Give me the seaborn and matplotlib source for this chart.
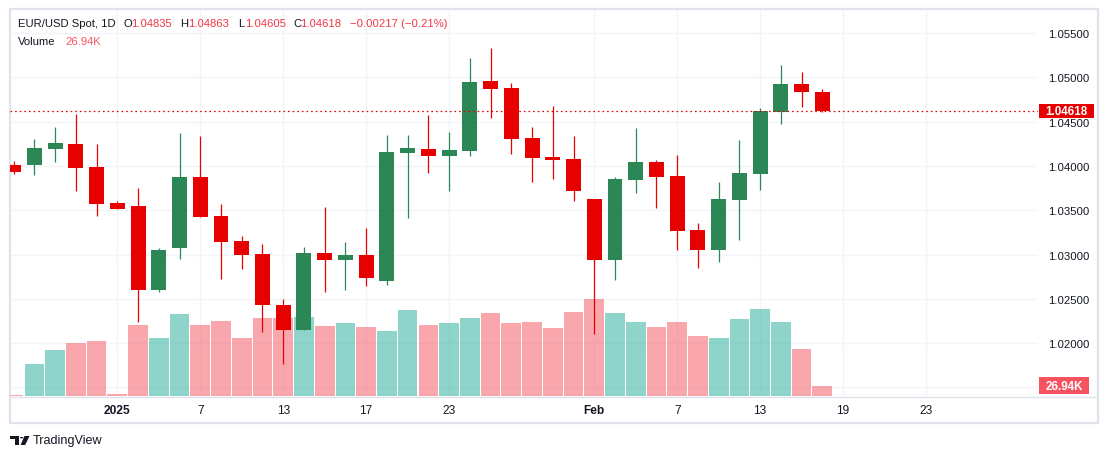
import numpy as np
import pandas as pd
import matplotlib
matplotlib.use("Agg")
import matplotlib.pyplot as plt
import seaborn as sns
from matplotlib.patches import Rectangle, Polygon, Circle
from matplotlib.lines import Line2D

# ---------------- data ----------------
dates = ["2024-12-25", "2024-12-26", "2024-12-27", "2024-12-30", "2024-12-31",
         "2025-01-01", "2025-01-02", "2025-01-03", "2025-01-06", "2025-01-07",
         "2025-01-08", "2025-01-09", "2025-01-10", "2025-01-13", "2025-01-14",
         "2025-01-15", "2025-01-16", "2025-01-17", "2025-01-20", "2025-01-21",
         "2025-01-22", "2025-01-23", "2025-01-24", "2025-01-27", "2025-01-28",
         "2025-01-29", "2025-01-30", "2025-01-31", "2025-02-03", "2025-02-04",
         "2025-02-05", "2025-02-06", "2025-02-07", "2025-02-10", "2025-02-11",
         "2025-02-12", "2025-02-13", "2025-02-14", "2025-02-17", "2025-02-18"]

open_ = [1.04010, 1.04013, 1.04190, 1.04247, 1.03987, 1.03581, 1.03547, 1.02598, 1.03073, 1.03874,
         1.03434, 1.03152, 1.03005, 1.02429, 1.02150, 1.03016, 1.02940, 1.02994, 1.02703, 1.04149,
         1.04190, 1.04115, 1.04168, 1.04958, 1.04879, 1.04315, 1.04100, 1.04077, 1.03626, 1.02937,
         1.03840, 1.04044, 1.03886, 1.03276, 1.03050, 1.03615, 1.03908, 1.04611, 1.04924, 1.04835]
high = [1.04055, 1.04303, 1.04439, 1.04586, 1.04247, 1.03603, 1.03750, 1.03073, 1.04371, 1.04337,
        1.03569, 1.03208, 1.03118, 1.02497, 1.03084, 1.03536, 1.03140, 1.03298, 1.04348, 1.04348,
        1.04574, 1.04382, 1.05218, 1.05331, 1.04936, 1.04439, 1.04676, 1.04337, 1.03626, 1.03874,
        1.04427, 1.04066, 1.04123, 1.03355, 1.03818, 1.04292, 1.04653, 1.05139, 1.05060, 1.04863]
low = [1.03909, 1.03897, 1.04047, 1.03720, 1.03437, 1.03513, 1.02237, 1.02576, 1.02948, 1.03420,
       1.02723, 1.02836, 1.02124, 1.01763, 1.02150, 1.02579, 1.02602, 1.02647, 1.02658, 1.03415,
       1.03923, 1.03720, 1.04111, 1.04540, 1.04134, 1.03818, 1.03852, 1.03603, 1.02105, 1.02715,
       1.03694, 1.03524, 1.03050, 1.02847, 1.02915, 1.03163, 1.03728, 1.04473, 1.04665, 1.04605]
close = [1.03935, 1.04202, 1.04258, 1.03976, 1.03569, 1.03513, 1.02598, 1.03050, 1.03874, 1.03423,
         1.03140, 1.02994, 1.02429, 1.02150, 1.03016, 1.02940, 1.02994, 1.02737, 1.04157, 1.04202,
         1.04115, 1.04179, 1.04947, 1.04868, 1.04303, 1.04089, 1.04066, 1.03716, 1.02937, 1.03852,
         1.04044, 1.03874, 1.03265, 1.03050, 1.03626, 1.03919, 1.04616, 1.04924, 1.04835, 1.04618]
volume_k = [3.5, 86, 124, 143, 148, 5, 191, 156, 221, 191,
            202, 156, 210, 210, 213, 189, 197, 186, 175, 232,
            191, 197, 210, 224, 197, 199, 183, 226, 261, 224,
            199, 186, 199, 162, 156, 207, 234, 199, 127, 26.94]

price_ticks = [1.015, 1.020, 1.025, 1.030, 1.035, 1.040, 1.045, 1.050, 1.055]
price_tick_labels = ["", "1.02000", "1.02500", "1.03000", "1.03500", "1.04000", "1.04500", "1.05000", "1.05500"]
time_tick_bars = [5, 9, 13, 17, 21, 28, 32, 36, 40, 44]
time_tick_labels = ["2025", "7", "13", "17", "23", "Feb", "7", "13", "19", "23"]

title_text = "EUR/USD Spot, 1D"
ohlc_legend = [("O", "1.04835"), ("H", "1.04863"), ("L", "1.04605"), ("C", "1.04618")]
change_text = "\u22120.00217 (\u22120.21%)"
volume_label = "26.94K"

# ---------------- style ----------------
sns.set_theme(style="white")
plt.rcParams["font.family"] = ["Liberation Sans", "DejaVu Sans"]

TXT = "#131722"
GREEN = "#2b8856"
RED = "#e60000"
LEG_RED = "#f23645"
VOL_RED = "#f7525f"
VOL_UP = "#1fab97"
VOL_DN = "#f5515d"
GRID = "#f2f4f9"
BORDER = "#e0e3eb"

W, H = 1109, 460
fig = plt.figure(figsize=(W / 100, H / 100), dpi=100)
fig.patch.set_facecolor("white")


def fx(x):
    return x / W


def fy(y):
    return 1 - y / H


L, R, T, B = 10, 1038, 10, 397
ax = fig.add_axes([fx(L), fy(B), (R - L) / W, (B - T) / H])
axv = ax.twinx()
axc = ax.twinx()
ax.set_zorder(0)
axv.set_zorder(1)
axc.set_zorder(2)
axv.patch.set_visible(False)
axc.patch.set_visible(False)

o = np.array(open_)
c = np.array(close)
hi = np.array(high)
lo = np.array(low)
n = len(o)
xb = np.arange(n)
up = c >= o
direction = np.where(up, "up", "down")

# volume (seaborn)
df = pd.DataFrame({"bar": xb, "volume": volume_k, "dir": direction})
sns.barplot(data=df, x="bar", y="volume", hue="dir", hue_order=["up", "down"],
            palette={"up": VOL_UP, "down": VOL_DN}, native_scale=True, dodge=False,
            width=0.95, saturation=1, errorbar=None, legend=False, alpha=0.5,
            linewidth=0, ax=axv)
axv.set_ylim(0, 1040)

# candles
cols = np.where(up, GREEN, RED)
axc.vlines(xb, lo, hi, colors=cols, linewidth=0.9)
body_lo = np.minimum(o, c)
body_h = np.maximum(np.abs(c - o), 0.00012)
axc.bar(xb, body_h, bottom=body_lo, width=0.72, color=cols, linewidth=0)
axc.axhline(c[-1], color=RED, lw=0.9, ls=(0, (1.3, 2.4)))

ylo, yhi = 1.01403, 1.05771
for a in (ax, axc):
    a.set_ylim(ylo, yhi)
ax.set_xlim(-0.176, 49.4)
axv.axis("off")
axc.axis("off")

# price axis / grid
for s in ax.spines.values():
    s.set_visible(False)
ax.set_yticks(price_ticks)
ax.set_yticklabels(price_tick_labels)
ax.yaxis.tick_right()
ax.tick_params(axis="y", length=0, pad=36.7, labelsize=8.2, labelcolor=TXT)
for lab in ax.get_yticklabels():
    lab.set_horizontalalignment("right")
ax.set_xticks(time_tick_bars)
ax.set_xticklabels(time_tick_labels)
ax.tick_params(axis="x", length=0, pad=6, labelsize=8.6, labelcolor=TXT)
for lab in ax.get_xticklabels():
    if lab.get_text() in ("2025", "Feb"):
        lab.set_fontweight("bold")
ax.grid(True, color=GRID, lw=1)
ax.set_xlabel("")
ax.set_ylabel("")

# frame
fig.add_artist(Rectangle((fx(10), fy(424)), (1098 - 10) / W, (424 - 10) / H,
                         transform=fig.transFigure, fill=False, ec=BORDER, lw=1.6))
fig.add_artist(Line2D([fx(10), fx(1098)], [fy(397.5), fy(397.5)],
                      transform=fig.transFigure, color=BORDER, lw=1))

# legend text
LFS = 8.1
fig.text(fx(18), fy(24), title_text, fontsize=LFS, color=TXT, va="center")
lx = [(124, 131), (180, 188), (238, 245), (293, 300)]
for (lab, val), (x1, x2) in zip(ohlc_legend, lx):
    fig.text(fx(x1), fy(24), lab, fontsize=LFS, color=TXT, va="center")
    fig.text(fx(x2), fy(24), val, fontsize=LFS, color=LEG_RED, va="center")
fig.text(fx(350), fy(24), change_text, fontsize=LFS, color=LEG_RED, va="center")
fig.text(fx(18), fy(42), "Volume", fontsize=LFS, color=TXT, va="center")
fig.text(fx(65), fy(42), volume_label, fontsize=LFS, color=VOL_RED, va="center")

# price / volume boxes on the scale
fig.canvas.draw()
py = ax.transData.transform((0, c[-1]))[1]
fig.add_artist(Rectangle((fx(1039), (py - 7) / H), 55 / W, 14 / H,
                         transform=fig.transFigure, fc=RED, ec="none", zorder=20))
fig.text(fx(1066.5), py / H, "1.04618", fontsize=8.4, fontweight="bold", color="white",
         ha="center", va="center", zorder=21)
vy = axv.transData.transform((0, volume_k[-1]))[1]
fig.add_artist(Rectangle((fx(1039), (vy - 8.5) / H), 50 / W, 17 / H,
                         transform=fig.transFigure, fc=VOL_RED, ec="none", zorder=20))
fig.text(fx(1064), vy / H, volume_label, fontsize=8.4, fontweight="bold", color="white",
         ha="center", va="center", zorder=21)

# TradingView logo
def pts(lst):
    return [(fx(a), fy(b)) for a, b in lst]

fig.add_artist(Polygon(pts([(10, 437), (19, 437), (19, 446), (14.6, 446), (14.6, 440.3), (10, 440.3)]),
                       closed=True, transform=fig.transFigure, fc=TXT, ec="none"))
fig.add_artist(Circle((fx(21.6), fy(438.7)), 1.7 / W, transform=fig.transFigure, fc=TXT, ec="none"))
fig.add_artist(Polygon(pts([(24.5, 437), (29.5, 437), (25.2, 446), (20.6, 446)]),
                       closed=True, transform=fig.transFigure, fc=TXT, ec="none"))
fig.text(fx(32.5), fy(441.5), "TradingView", fontsize=9.1, color=TXT, va="center")

fig.savefig("out.png", dpi=100, facecolor="white")
